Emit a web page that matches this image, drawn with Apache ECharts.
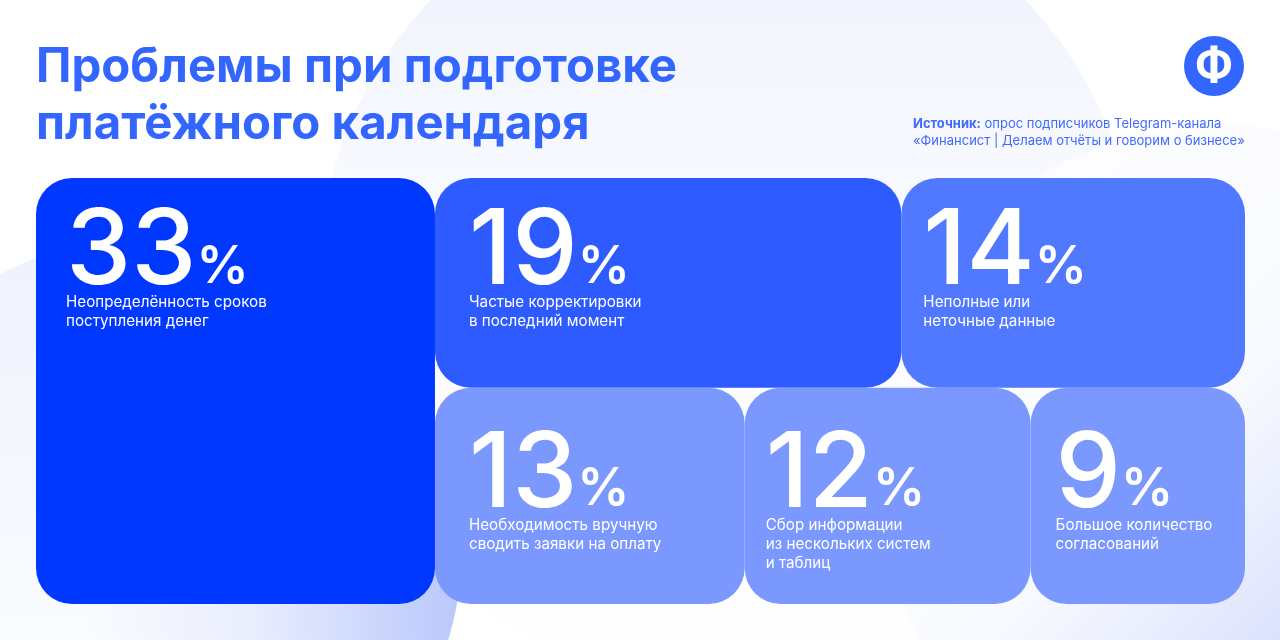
<!DOCTYPE html>
<html>
<head>
<meta charset="utf-8">
<style>
html,body{margin:0;padding:0;background:#fff;}
#main{width:1280px;height:640px;}
</style>
<script src="https://cdn.jsdelivr.net/npm/echarts@6/dist/echarts.min.js"></script>
</head>
<body>
<div id="main"></div>
<script>
var FONT='Inter';
var titleText='Проблемы при подготовке\nплатёжного календаря';
var sourceHead='Источник:';
var sourceLine1=' опрос подписчиков Telegram-канала';
var sourceLine2='«Финансист | Делаем отчёты и говорим о бизнесе»';

var categories=[
	'Неопределённость сроков\nпоступления денег',
	'Частые корректировки\nв последний момент',
	'Неполные или\nнеточные данные',
	'Необходимость вручную\nсводить заявки на оплату',
	'Сбор информации\nиз нескольких систем\nи таблиц',
	'Большое количество\nсогласований'
];
var shares=[33,19,14,13,12,9];
var tileColors=['#0038ff','#2d5bff','#5179ff','#7b98ff','#7b98ff','#7b98ff'];

function leaf(i,padTop,padLeft){
	return {
		name:categories[i],
		value:shares[i],
		itemStyle:{color:tileColors[i]},
		label:{
			padding:[padTop,0,0,padLeft],
			formatter:'{n|'+shares[i]+'}{p|%}\n{t|'+categories[i].split('\n').join('}\n{t|')+'}'
		}
	};
}

// левый столбец + справа две строки, ряды держим группами
var treeData=[
	leaf(0,65,30),
	{name:'rest',children:[
		{name:'top',children:[leaf(1,65,34),leaf(2,65,22)]},
		{name:'bottom',children:[leaf(3,78,34),leaf(4,78,21),leaf(5,78,25)]}
	]}
];

var myChart=echarts.init(document.getElementById('main'));
var option={
	backgroundColor:'#ffffff',
	animation:false,
	textStyle:{fontFamily:FONT},
	title:[{
		text:titleText,
		left:36,
		top:39,
		padding:0,
		textStyle:{fontFamily:FONT,fontSize:47.4,fontWeight:700,lineHeight:57,color:'#3366ff'}
	},{
		text:'{b|'+sourceHead+'}{r|'+sourceLine1+'}\n{r|'+sourceLine2+'}',
		left:913,
		top:115,
		padding:0,
		textStyle:{
			rich:{
				b:{fontFamily:FONT,fontSize:13,fontWeight:700,lineHeight:17.5,color:'#3f6bff'},
				r:{fontFamily:FONT,fontSize:13,fontWeight:400,lineHeight:17.5,color:'#3f6bff'}
			}
		}
	}],
	graphic:{elements:[
		{type:'circle',z:-10,silent:true,shape:{cx:728,cy:282,r:410},
			style:{fill:new echarts.graphic.LinearGradient(0,0,0,1,[
				{offset:0,color:'#eef1fd'},{offset:0.3,color:'#f6f8fe'},{offset:0.55,color:'#fcfcff'},{offset:1,color:'#ffffff'}])}},
		{type:'circle',z:-10,silent:true,shape:{cx:1220,cy:470,r:345},
			style:{fill:new echarts.graphic.LinearGradient(0,0,1,1,[
				{offset:0,color:'#ffffff'},{offset:0.45,color:'#f9faff'},{offset:0.67,color:'#dbe2fd'},{offset:1,color:'#cfd9fc'}])}},
		{type:'circle',z:-9,silent:true,shape:{cx:150,cy:548,r:312},
			style:{fill:new echarts.graphic.LinearGradient(0,0,0,1,[
				{offset:0,color:'#eff2fd'},{offset:0.9,color:'#ffffff'},{offset:1,color:'#ffffff'}])}},
		{type:'circle',z:-8,silent:true,shape:{cx:150,cy:548,r:312},
			style:{fill:new echarts.graphic.LinearGradient(0,0,1,0,[
				{offset:0.4,color:'rgba(185,199,251,0)'},{offset:0.66,color:'rgba(185,199,251,0.25)'},{offset:1,color:'rgba(185,199,251,1)'}])}},
		{type:'circle',z:5,silent:true,shape:{cx:1214,cy:66,r:30},style:{fill:'#3366ff'}},
		{type:'text',z:6,silent:true,style:{x:1214,y:67,text:'Ф',fill:'#ffffff',align:'center',verticalAlign:'middle',
			font:'700 46px Inter'}}
	]},
	series:[{
		type:'treemap',
		left:36,
		top:178,
		width:1209,
		height:426,
		roam:false,
		nodeClick:false,
		silent:true,
		sort:false,
		squareRatio:2.5,
		visibleMin:0,
		breadcrumb:{show:false},
		upperLabel:{show:false},
		itemStyle:{borderWidth:0,gapWidth:0,borderColor:'transparent',borderRadius:36},
		label:{
			show:true,
			position:'insideTopLeft',
			overflow:'none',
			color:'#fff',
			rich:{
				n:{fontFamily:FONT,fontSize:104,fontWeight:500,height:80,lineHeight:50,color:'#fff',verticalAlign:'bottom'},
				p:{fontFamily:FONT,fontSize:52,fontWeight:600,lineHeight:36,color:'#fff',verticalAlign:'bottom'},
				t:{fontFamily:FONT,fontSize:15.2,fontWeight:400,lineHeight:19,color:'#fff'}
			}
		},
		data:treeData
	}]
};
myChart.setOption(option);
</script>
</body>
</html>
